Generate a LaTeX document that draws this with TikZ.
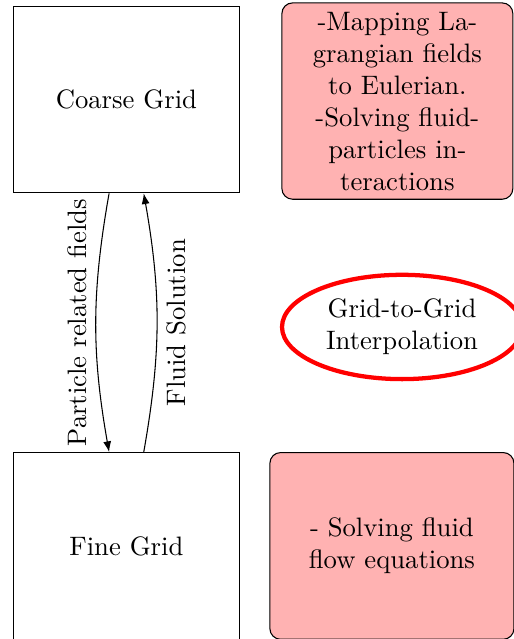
\documentclass[tikz,border=0pt]{standalone}
\definecolor{pink1}{RGB}{255, 178, 178}
\definecolor{red1}{RGB}{255, 0, 0}
\usepackage{tikz}
\usetikzlibrary{shapes, arrows.meta, positioning}

\begin{document}
\begin{tikzpicture}[
  gridbox/.style={draw, minimum width=85pt, minimum height=70pt},
  taskbox/.style={draw, fill=pink1, rounded corners=4pt, align=center},
  flow/.style={-{Latex[length=4pt, width=3pt]}}
]
  \useasboundingbox (0,0) rectangle (192.4pt,-239.6pt);
  \node[gridbox] (coarse) at (47.4pt,-37.3pt) {Coarse Grid};
  \node[gridbox, below=97pt of coarse] (fine) {Fine Grid};
  \node[taskbox, minimum width=86.6pt, minimum height=72.5pt, right=15.4pt of coarse, yshift=-0.6pt] (mapping) {
    -Mapping La-\\grangian fields\\to Eulerian.\\
    -Solving fluid-\\particles in-\\teractions
  };
  \node[taskbox, minimum width=91.5pt, minimum height=70pt, right=10.9pt of fine] (solver) {
    - Solving fluid\\flow equations
  };
  \node[draw=red1, ultra thick, ellipse, align=center] (interp) at (150.75pt,-122.6pt) {Grid-to-Grid\\Interpolation};
  \draw[flow] ([xshift=-6.5pt]coarse.south) to[bend right=10] node[midway, anchor=south, rotate=90] {Particle related fields} ([xshift=-6.5pt]fine.north);
  \draw[flow] ([xshift=6.5pt]fine.north) to[bend right=10] node[midway, anchor=north, rotate=90] {Fluid Solution} ([xshift=6.5pt]coarse.south);
\end{tikzpicture}
\end{document}
